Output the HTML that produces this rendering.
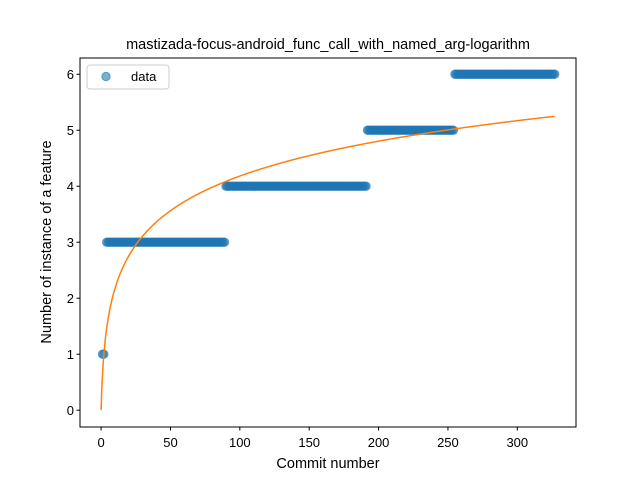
<!DOCTYPE html>
<html><head><meta charset="utf-8"><style>
body{margin:0;background:#fff}
svg text{font-family:"Liberation Sans","DejaVu Sans",sans-serif;fill:#000}
</style></head><body>
<svg id="chart" width="640" height="480" viewBox="0 0 640 480" xmlns="http://www.w3.org/2000/svg">
<rect width="640" height="480" fill="#fff"/>
<text x="328" y="49" font-size="14.5" text-anchor="middle">mastizada-focus-android_func_call_with_named_arg-logarithm</text>
<g id="marks"></g>
<rect x="80" y="58" width="496" height="369" fill="none" stroke="#000" stroke-width="1"/>
<g id="xticks"></g><g id="yticks"></g>
<text x="328" y="468" font-size="14.5" text-anchor="middle">Commit number</text>
<text transform="translate(51,242) rotate(-90)" font-size="14.5" text-anchor="middle">Number of instance of a feature</text>
<g>
<rect x="87" y="65" width="82" height="24" rx="3" fill="#fff" fill-opacity="0.8" stroke="#ccc"/>
<circle cx="106" cy="76.5" r="4.2" fill="#1f77b4" fill-opacity="0.6" stroke="#1f77b4" stroke-opacity="0.6"/>
<text x="131" y="81" font-size="13">data</text>
</g>
</svg>
<script>
const stepStarts=[1,4,90,192,255];
const stepEnds=[2,89,191,254,327];
const stepValues=[1,3,4,5,6];
const fitCoef=[0.906];
const xTicks=[0,50,100,150,200,250,300];
const yTicks=[0,1,2,3,4,5,6];
const xMin=-15.2,xMax=342.3,yMin=-0.3,yMax=6.29;
const L=80,R=576,T=58,B=427;
const sx=v=>L+(v-xMin)/(xMax-xMin)*(R-L);
const sy=v=>B-(v-yMin)/(yMax-yMin)*(B-T);
const NS="http://www.w3.org/2000/svg";
function mk(tag,attrs,parent){const e=document.createElementNS(NS,tag);for(const k in attrs)e.setAttribute(k,attrs[k]);parent.appendChild(e);return e;}
const marks=document.getElementById('marks');
for(let s=0;s<stepStarts.length;s++){
 for(let x=stepStarts[s];x<=stepEnds[s];x++){
  const c=mk('circle',{cx:sx(x),cy:sy(stepValues[s]),r:4.2,fill:'#1f77b4','fill-opacity':0.6,stroke:'#1f77b4','stroke-opacity':0.6},marks);
  
  
 }
}
const lastX=stepEnds[stepEnds.length-1];
let d='';
for(let x=0;x<=lastX;x+=0.25){d+=(x===0?'M':'L')+sx(x).toFixed(2)+','+sy(fitCoef[0]*Math.log(x+1)).toFixed(2);}
const fit=mk('path',{d:d,fill:'none',stroke:'#ff7f0e','stroke-width':1.5},marks);


const xg=document.getElementById('xticks');
xTicks.forEach(v=>{
 mk('line',{x1:sx(v),x2:sx(v),y1:B,y2:B+3.5,stroke:'#000'},xg);
 const t=mk('text',{x:sx(v),y:B+20,'font-size':13,'text-anchor':'middle'},xg);
 t.textContent=v;
 
 
});
const yg=document.getElementById('yticks');
yTicks.forEach(v=>{
 mk('line',{x1:L-3.5,x2:L,y1:sy(v),y2:sy(v),stroke:'#000'},yg);
 const t=mk('text',{x:L-6,y:sy(v)+4.7,'font-size':13,'text-anchor':'end'},yg);
 t.textContent=v;
 
 
});
</script>
</body></html>
